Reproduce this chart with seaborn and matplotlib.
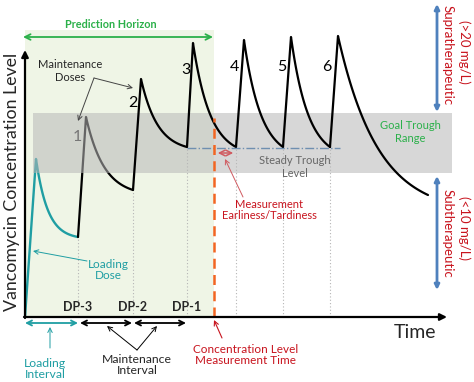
import numpy as np
import pandas as pd
import matplotlib
matplotlib.use("Agg")
import matplotlib.pyplot as plt
import seaborn as sns

sns.set_style("white")
plt.rcParams['font.family'] = ['Lato', 'DejaVu Sans']

# dosing schedule: time from start (arbitrary units), concentration (arbitrary units)
dose_times = [0, 53, 108, 162, 211, 258, 305]
peak_times = [11, 61, 116, 168, 219, 266, 313]
peak_levels = [158, 200, 238, 274, 277, 280, 281]
trough_levels = [80, 127, 170, 170, 170, 170]
decay_rates = [0.085, 0.055, 0.06, 0.058, 0.058, 0.058, 0.025]
end_time, end_level = 403, 122
goal_range = [144, 204]
band_span = [8, 427]
steady_trough = 169
steady_span = [162, 315]
measure_time = 189
horizon_top = 287
dose_labels = ["1", "2", "3", "4", "5", "6"]
dp_labels = ["DP-3", "DP-2", "DP-1"]

TEAL = "#1f9ea3"
GREEN = "#2bb04a"
RED = "#c8141e"
BLUE = "#4f81bd"


def dose_curve(i):
    t0 = dose_times[i]
    c0 = 0 if i == 0 else trough_levels[i - 1]
    tp, cp = peak_times[i], peak_levels[i]
    if i + 1 < len(dose_times):
        t1, c1 = dose_times[i + 1], trough_levels[i]
    else:
        t1, c1 = end_time, end_level
    k, T = decay_rates[i], t1 - tp
    td = np.linspace(tp, t1, 60)
    g = (np.exp(-k * (td - tp)) - np.exp(-k * T)) / (1 - np.exp(-k * T))
    cd = c1 + (cp - c1) * g
    return pd.DataFrame({"t": np.r_[t0, td], "c": np.r_[c0, cd], "dose": i})


fig = plt.figure(figsize=(4.74, 3.82), dpi=100)
ax = fig.add_axes([0, 0, 1, 1])
ax.set_xlim(-25, 449)
ax.set_ylim(-65, 317)
ax.axis("off")

# prediction horizon background + goal band
ax.fill_between([0, measure_time], 0, horizon_top, color="#eff5e6", zorder=0, lw=0)

load = dose_curve(0)
first = dose_curve(1)
rest = pd.concat([dose_curve(i) for i in range(2, len(dose_times))])
sns.lineplot(data=load, x="t", y="c", color=TEAL, lw=1.7, sort=False, ax=ax, zorder=1)
sns.lineplot(data=first, x="t", y="c", color="black", lw=1.6, sort=False, ax=ax, zorder=1)
ax.fill_between(band_span, goal_range[0], goal_range[1], color="#b7b7b7", alpha=0.55, zorder=2, lw=0)
sns.lineplot(data=rest, x="t", y="c", color="black", lw=1.6, sort=False, ax=ax, zorder=3,
             units="dose", estimator=None)

# dotted dose lines
for t, c in zip(dose_times[1:], trough_levels + [steady_trough]):
    ax.plot([t, t], [0, c], ls=(0, (1, 2)), color="#b5b5b5", lw=0.8, zorder=1)
ax.plot(steady_span, [steady_trough] * 2, ls="-.", color="#6f8fb0", lw=1.0, zorder=4)
ax.plot([measure_time] * 2, [0, 199], ls=(0, (4, 2.5)), color="#f26522", lw=1.8, zorder=4)
ax.annotate("", xy=(measure_time + 1, 164), xytext=(dose_times[4], 164),
            arrowprops=dict(arrowstyle="<->", color="#d05a60", lw=1.1), zorder=5)

# overlay in pixel space for axes arrows and labels
ov = fig.add_axes([0, 0, 1, 1])
ov.set_xlim(0, 474)
ov.set_ylim(382, 0)
ov.axis("off")


def arrow(p0, p1, color="black", style="->", lw=0.8, ms=8):
    ov.annotate("", xy=p1, xytext=p0,
                arrowprops=dict(arrowstyle=style, color=color, lw=lw, mutation_scale=ms,
                                shrinkA=0, shrinkB=0))


arrow((25, 318), (25, 50), style="-|>", lw=1.6, ms=10)
arrow((24, 317), (447, 317), style="-|>", lw=1.6, ms=10)
arrow((23, 37), (213, 37), color=GREEN, style="<->", lw=1.3, ms=10)
ov.text(111, 25, "Prediction Horizon", color=GREEN, fontsize=7.8, fontweight="bold", ha="center", va="center")

arrow((437, 112), (437, 4), color=BLUE, style="<|-|>", lw=2.0, ms=7)
arrow((437, 290), (437, 176), color=BLUE, style="<|-|>", lw=2.0, ms=7)
for y, s in [(55, "Supratherapeutic"), (233, "Subtherapeutic")]:
    ov.text(448, y, s, color=RED, fontsize=9.5, rotation=-90, ha="center", va="center")
for y, s in [(52, "(>20 mg/L)"), (228, "(<10 mg/L)")]:
    ov.text(464, y, s, color=RED, fontsize=9.5, rotation=-90, ha="center", va="center")

ov.text(12, 182, "Vancomycin Concentration Level", fontsize=12.8, rotation=90, ha="center", va="center")
ov.text(415, 333, "Time", fontsize=14, ha="center", va="center")

for x, s in zip(dose_times[1:4], dp_labels):
    ov.text(x + 25, 307, s, fontsize=9, fontweight="bold", ha="center", va="center")
arrow((25, 323), (78, 323), color=TEAL, style="<->", lw=1.3, ms=9)
arrow((80, 323), (132, 323), style="<->", lw=1.3, ms=9)
arrow((134, 323), (186, 323), style="<->", lw=1.3, ms=9)

arrow((50, 348), (50, 327), color=TEAL, lw=0.7)
ov.text(45, 369, "Loading\nInterval", color=TEAL, fontsize=8.8, ha="center", va="center", linespacing=1.05)
arrow((137, 350), (107, 326), lw=0.7)
arrow((137, 350), (157, 326), lw=0.7)
ov.text(137, 365, "Maintenance\nInterval", fontsize=8.8, ha="center", va="center", linespacing=1.05)
arrow((222, 338), (214, 320), color=RED, lw=0.8)
ov.text(246, 355, "Concentration Level\nMeasurement Time", color=RED, fontsize=8.5, ha="center", va="center",
        linespacing=1.05)

arrow((243, 197), (225, 159), color="#d05a60", lw=0.7)
ov.text(269, 210, "Measurement\nEarliness/Tardiness", color=RED, fontsize=8, ha="center", va="center",
        linespacing=1.1)
ov.text(295, 167, "Steady Trough\nLevel", color="#666666", fontsize=8, ha="center", va="center", linespacing=1.2)
ov.text(410, 132, "Goal Trough\nRange", color=GREEN, fontsize=8, ha="center", va="center", linespacing=1.2)

arrow((87, 261), (33, 251), color=TEAL, lw=0.7)
ov.text(108, 270, "Loading\nDose", color=TEAL, fontsize=8.5, ha="center", va="center", linespacing=1.1)

arrow((94, 78), (78, 121), color="#444444", lw=0.7)
arrow((94, 78), (133, 88), color="#444444", lw=0.7)
ov.text(70, 71, "Maintenance\nDoses", fontsize=8, ha="center", va="center", linespacing=1.2)

label_pos = [(77, 137), (133, 103), (186, 70), (234, 67), (282, 67), (327, 67)]
for (x, y), s in zip(label_pos, dose_labels):
    ov.text(x, y, s, fontsize=11.5, color="#777777" if s == "1" else "black", ha="center", va="center")

fig.savefig("out.png", dpi=100)
